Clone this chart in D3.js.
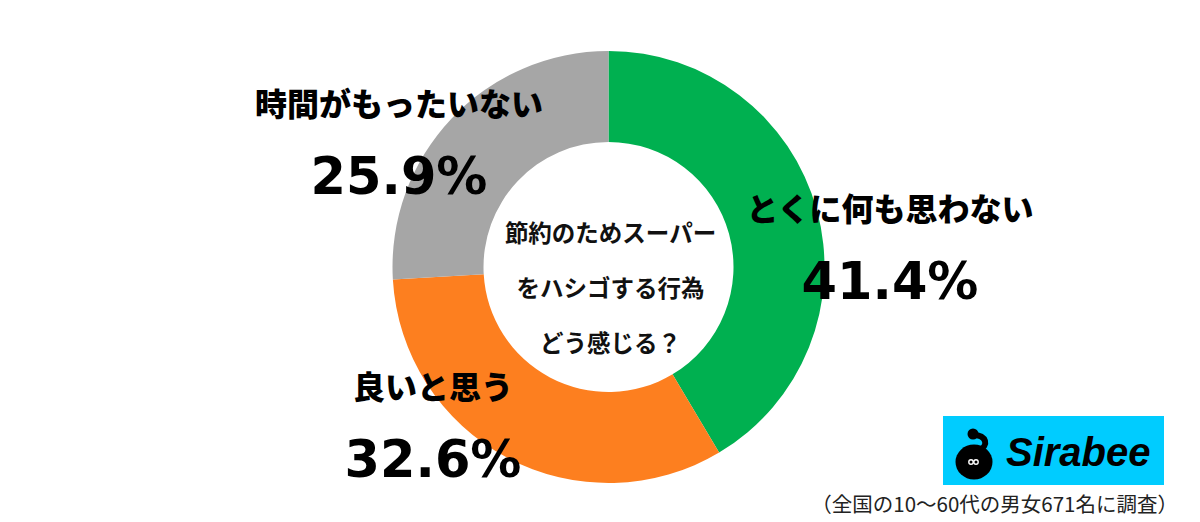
<!DOCTYPE html>
<html>
<head>
<meta charset="utf-8">
<script src="https://cdn.jsdelivr.net/npm/d3@7"></script>
<style>
  body { margin: 0; background: #fff; }
  svg { display: block; }
</style>
</head>
<body>
<svg id="chart" width="1200" height="522"></svg>
<script>
// data
var categories = ['とくに何も思わない', '良いと思う', '時間がもったいない'];
var values = [41.4, 32.6, 25.9];
var colors = ['#00b050', '#fd7f1f', '#a6a6a6'];
var centerLines = ['節約のためスーパー', 'をハシゴする行為', 'どう感じる？'];
var note = '（全国の10〜60代の男女671名に調査）';

// layout
var width = 1200, height = 522;
var cx = 608.5, cy = 267;
var outerR = 216, innerR = 125;
// label anchor (center of the name/percent pair), one per category
var labelPos = [[890, 207], [433, 385], [399, 102]];
var jp = '"Noto Sans CJK JP", "Noto Sans", sans-serif';

var svg = d3.select('#chart');

var pie = d3.pie().sort(null).value(function(d) { return d; });
var arc = d3.arc().innerRadius(innerR).outerRadius(outerR);

var g = svg.append('g').attr('transform', 'translate(' + cx + ',' + cy + ')');

g.selectAll('path.slice')
  .data(pie(values))
  .enter().append('path')
    .attr('class', 'slice')
    .attr('d', arc)
    .attr('fill', function(d, i) { return colors[i]; });

// text in the hole
g.selectAll('text.center')
  .data(centerLines)
  .enter().append('text')
    .attr('class', 'center')
    .attr('x', 2)
    .attr('y', function(d, i) { return -35 + i * 55; })
    .attr('text-anchor', 'middle')
    .attr('dominant-baseline', 'central')
    .style('font-family', jp)
    .style('font-weight', 700)
    .style('font-size', '23.5px')
    .attr('fill', '#111')
    .text(function(d) { return d; });

// slice labels
var labels = svg.selectAll('g.lab')
  .data(categories)
  .enter().append('g')
    .attr('class', 'lab')
    .attr('transform', function(d, i) { return 'translate(' + labelPos[i][0] + ',' + labelPos[i][1] + ')'; });

labels.append('text')
  .attr('text-anchor', 'middle')
  .attr('dominant-baseline', 'central')
  .style('font-family', jp)
  .style('font-weight', 900)
  .style('font-size', '32px')
  .attr('fill', '#000')
  .text(function(d) { return d; });

labels.append('text')
  .attr('y', 74)
  .attr('text-anchor', 'middle')
  .attr('dominant-baseline', 'central')
  .style('font-family', '"DejaVu Sans", sans-serif')
  .style('font-weight', 700)
  .style('font-size', '51px')
  .attr('fill', '#000')
  .text(function(d, i) { return values[i].toFixed(1) + '%'; });

// Sirabee logo
var logo = svg.append('g').attr('transform', 'translate(943,416)');
logo.append('rect')
  .attr('width', 221).attr('height', 69)
  .attr('fill', '#00ccff');
logo.append('ellipse')
  .attr('cx', 31).attr('cy', 46).attr('rx', 18.5).attr('ry', 17.5)
  .attr('fill', '#000');
logo.append('path')
  .attr('d', 'M30,19 C44,19 46,30 36,34')
  .attr('fill', 'none').attr('stroke', '#000').attr('stroke-width', 6)
  .attr('stroke-linecap', 'round');
logo.append('circle').attr('cx', 30).attr('cy', 18).attr('r', 5.5).attr('fill', '#000');
logo.append('circle').attr('cx', 28).attr('cy', 46).attr('r', 2.2)
  .attr('fill', 'none').attr('stroke', '#fff').attr('stroke-width', 1.4);
logo.append('circle').attr('cx', 33).attr('cy', 46).attr('r', 2.2)
  .attr('fill', 'none').attr('stroke', '#fff').attr('stroke-width', 1.4);
logo.append('text')
  .attr('x', 63).attr('y', 50)
  .style('font-family', '"Liberation Sans", Arial, sans-serif')
  .style('font-weight', 700)
  .style('font-style', 'italic')
  .style('font-size', '40px')
  .attr('fill', '#000')
  .text('Sirabee');

// footnote
svg.append('text')
  .attr('x', 1178).attr('y', 503)
  .attr('text-anchor', 'end')
  .attr('dominant-baseline', 'central')
  .style('font-family', jp)
  .style('font-size', '20.5px')
  .attr('fill', '#222')
  .text(note);
</script>
</body>
</html>
